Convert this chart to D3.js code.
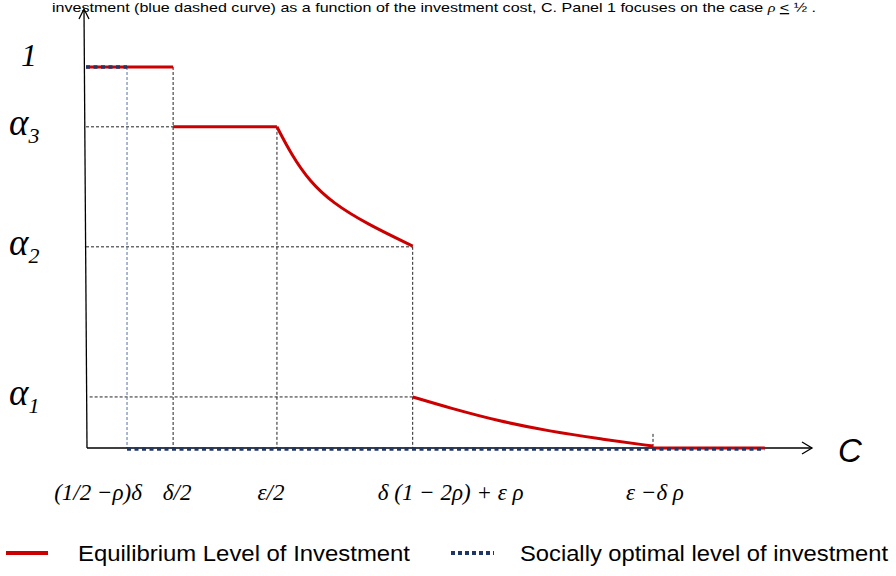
<!DOCTYPE html>
<html>
<head>
<meta charset="utf-8">
<script src="https://cdnjs.cloudflare.com/ajax/libs/d3/7.8.5/d3.min.js"></script>
<style>
  body { margin: 0; background: #fff; }
  svg { display: block; }
</style>
</head>
<body>
<svg id="chart"></svg>
<script>
// key cost levels on the C axis (schematic units) and their labels
const costKeys = [5.65, 12.0, 26.3, 45.0, 78.1];
const costLabels = ["(1/2 \u2212\u03c1)\u03b4", "\u03b4/2", "\u03b5/2", "\u03b4 (1 \u2212 2\u03c1) + \u03b5 \u03c1", "\u03b5 \u2212\u03b4 \u03c1"];

// investment levels on the vertical axis
const levelVals = [1, 0.843, 0.528, 0.134];
const levelNames = ["1", "3", "2", "1"];   // "1" plain, then alpha subscripts

// equilibrium level of investment, piece by piece
const eqTop = [[0, 1], [12.0, 1]];
const eqAlpha3 = [[12.0, 0.843], [26.3, 0.843]];
const eqCurve1 = [[26.3, 0.843], [28.3, 0.77], [30.8, 0.70], [34.0, 0.643], [38.7, 0.588], [45.0, 0.530]];
const eqCurve2 = [[45.0, 0.134], [50.1, 0.105], [57.0, 0.070], [63.9, 0.044], [70.8, 0.024], [78.1, 0.005]];
const eqZero = [[78.1, 0], [93.5, 0]];

// socially optimal level of investment
const soTop = [[0, 1], [5.65, 1]];
const soZero = [[5.65, 0], [93.5, 0]];

const W = 896, H = 576;
const svg = d3.select("#chart").attr("width", W).attr("height", H);

const x = d3.scaleLinear().domain([0, 100]).range([86, 812]);
const y = d3.scaleLinear().domain([0, 1]).range([448, 67]);

const red = "#cc0000", navy = "#1f3768", lightBlue = "#5570a8";
const serif = "'Liberation Serif', 'Times New Roman', serif";
const sans = "'Liberation Sans', Arial, sans-serif";

const line = d3.line().x(d => x(d[0])).y(d => y(d[1]));
const curved = d3.line().x(d => x(d[0])).y(d => y(d[1])).curve(d3.curveBasis);

// caption fragment at the top
const cap = svg.append("text")
    .attr("x", 52).attr("y", 12)
    .attr("textLength", 764).attr("lengthAdjust", "spacingAndGlyphs")
    .style("font-family", sans).style("font-size", "13px").attr("fill", "#000");
cap.append("tspan").text("investment (blue dashed curve) as a function of the investment cost, C. Panel 1 focuses on the case ");
cap.append("tspan").style("font-family", serif).style("font-style", "italic").text("\u03c1");
cap.append("tspan").text(" ");
cap.append("tspan").style("text-decoration", "underline").text("<");
cap.append("tspan").text(" \u00bd .");

// dashed guide lines
const guides = svg.append("g")
    .attr("stroke", "#222").attr("stroke-width", 1).attr("stroke-dasharray", "3,2").attr("fill", "none");
const hGuides = [[0, 12.0, 0.843], [0, 45.0, 0.528], [0.5, 45.0, 0.134]];
guides.selectAll(".hg").data(hGuides).join("line")
    .attr("x1", d => x(d[0])).attr("x2", d => x(d[1]))
    .attr("y1", d => y(d[2])).attr("y2", d => y(d[2]));
const vGuides = [[12.0, 1], [26.3, 0.843], [45.0, 0.528], [78.1, 0.037]];
guides.selectAll(".vg").data(vGuides).join("line")
    .attr("x1", d => x(d[0])).attr("x2", d => x(d[0]))
    .attr("y1", d => y(d[1])).attr("y2", y(0));
svg.append("line")
    .attr("x1", x(costKeys[0])).attr("x2", x(costKeys[0]))
    .attr("y1", y(1)).attr("y2", y(0))
    .attr("stroke", lightBlue).attr("stroke-width", 1).attr("stroke-dasharray", "3,2");

// axes with open arrow heads
const axes = svg.append("g").attr("stroke", "#000").attr("stroke-width", 1.3).attr("fill", "none");
axes.append("path").attr("d", `M${x(0) + 1},${y(0)} L${x(0) - 2},10`);
axes.append("path").attr("d", `M${x(0) - 7},19 L${x(0) - 2},9 L${x(0) + 3},19`);
axes.append("path").attr("d", `M${x(0) + 1},${y(0)} L${x(100)},${y(0)}`);
axes.append("path").attr("d", `M${x(100) - 10},${y(0) - 6} L${x(100)},${y(0)} L${x(100) - 10},${y(0) + 6}`);

// equilibrium curve
const eq = svg.append("g").attr("fill", "none").attr("stroke", red).attr("stroke-width", 3);
[eqTop, eqAlpha3, eqZero].forEach(seg => eq.append("path").attr("d", line(seg)));
[eqCurve1, eqCurve2].forEach(seg => eq.append("path").attr("d", curved(seg)));

// socially optimal curve
const so = svg.append("g").attr("fill", "none").attr("stroke", navy)
    .attr("stroke-width", 3.5).attr("stroke-dasharray", "4,3.5");
so.append("path").attr("d", line(soTop));
so.append("path").attr("d", line(soZero)).attr("transform", "translate(0,1)");

// y level labels
const yl = svg.append("g").style("font-family", serif).style("font-style", "italic").attr("fill", "#000");
yl.append("text").attr("x", 21).attr("y", y(levelVals[0]) - 1)
    .style("font-size", "32px").text(levelNames[0]);
levelVals.slice(1).forEach((v, i) => {
  const t = yl.append("text").attr("x", 9).attr("y", y(v) + 8).style("font-size", "37px");
  t.append("tspan").text("\u03b1");
  t.append("tspan").attr("dy", 8).style("font-size", "22px").text(levelNames[i + 1]);
});

// C axis labels
const labelShift = [-29, 4, -6, 38, 2];
svg.append("g").selectAll("text").data(costKeys).join("text")
    .attr("x", (d, i) => x(d) + labelShift[i]).attr("y", 500)
    .attr("text-anchor", "middle")
    .style("font-family", serif).style("font-style", "italic").style("font-size", "23px")
    .text((d, i) => costLabels[i]);

svg.append("text").attr("x", 850).attr("y", 462).attr("text-anchor", "middle")
    .style("font-family", sans).style("font-style", "italic").style("font-size", "33px").text("C");

// legend
const lg = svg.append("g").style("font-family", sans).style("font-size", "22px");
lg.append("line").attr("x1", 6).attr("x2", 48).attr("y1", 553).attr("y2", 553)
    .attr("stroke", red).attr("stroke-width", 4);
lg.append("text").attr("x", 78).attr("y", 561)
    .attr("textLength", 332).attr("lengthAdjust", "spacingAndGlyphs")
    .text("Equilibrium Level of Investment");
lg.append("line").attr("x1", 451).attr("x2", 494).attr("y1", 553).attr("y2", 553)
    .attr("stroke", navy).attr("stroke-width", 4).attr("stroke-dasharray", "4,3");
lg.append("text").attr("x", 520).attr("y", 561)
    .attr("textLength", 368).attr("lengthAdjust", "spacingAndGlyphs")
    .text("Socially optimal level of investment");
</script>
</body>
</html>
